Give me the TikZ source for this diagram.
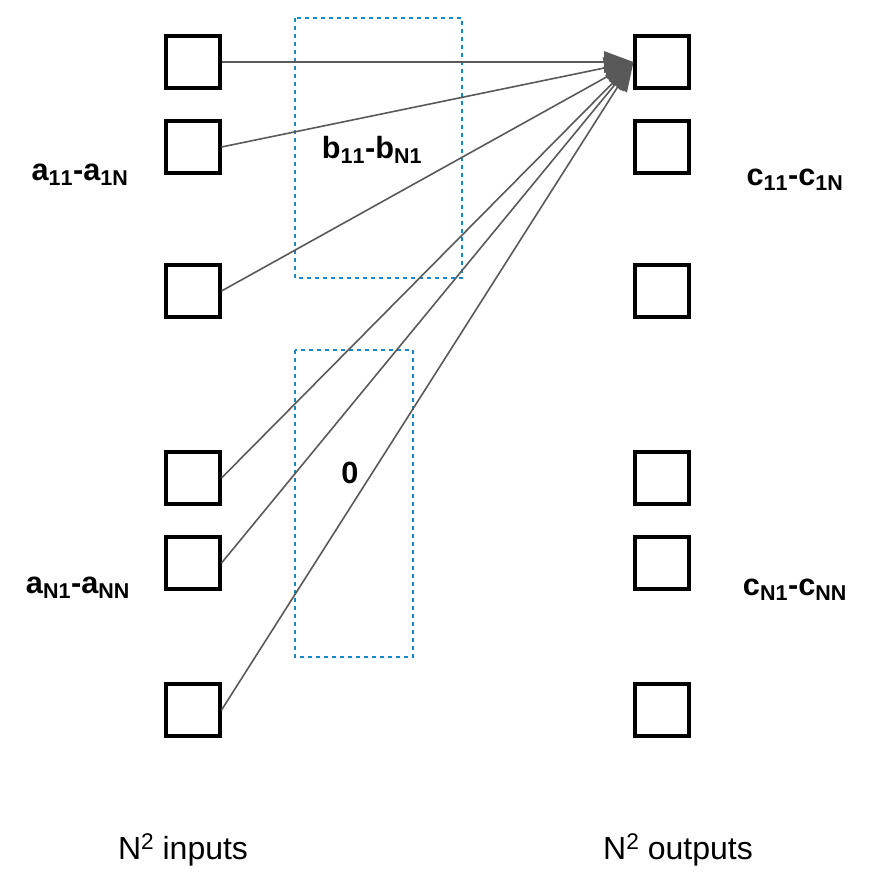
\documentclass[tikz,border=0pt]{standalone}
\usepackage{fontspec}
\setmainfont{Liberation Sans}
\usetikzlibrary{arrows.meta}
\begin{document}
\begin{tikzpicture}[x=0.75pt,y=-0.75pt,
  cell/.style={draw=black,line width=2.8pt,minimum width=40pt,minimum height=39pt,inner sep=0pt},
  conn/.style={draw=black!65,line width=1.2pt},
  grp/.style={draw=cyan!70!blue,dashed,line width=1.3pt},
  lab/.style={font=\fontsize{23}{26}\selectfont\bfseries,inner sep=0pt},
  captxt/.style={font=\fontsize{24}{28}\selectfont,inner sep=0pt}]
\useasboundingbox (0,0) rectangle (870,882);
\draw[grp] (295,18) rectangle (462,278);
\draw[grp] (295,350) rectangle (413,657);
\foreach \n/\y in {1/62,2/147,3/291,4/478,5/563,6/710}{
  \node[cell] (l\n) at (193,\y) {};
  \node[cell] (r\n) at (662,\y) {};
}
\foreach \n in {1,...,6}{
  \draw[conn,-{Triangle[length=22pt,width=16pt]}] (l\n.east) -- (r1.west);
}
\node[lab] (b) at (372,150) {b$_{\mathbf{11}}$-b$_{\mathbf{N1}}$};
\node[lab] (z) at (350,473) {0};
\node[lab] (a1) at (80,175) {a$_{\mathbf{11}}$-a$_{\mathbf{1N}}$};
\node[lab] (a2) at (78,588) {a$_{\mathbf{N1}}$-a$_{\mathbf{NN}}$};
\node[lab] (c1) at (795,180) {c$_{\mathbf{11}}$-c$_{\mathbf{1N}}$};
\node[lab] (c2) at (795,590) {c$_{\mathbf{N1}}$-c$_{\mathbf{NN}}$};
\node[captxt] (ti) at (183,850) {N{\fontsize{17}{20}\selectfont\raisebox{0.45em}{2}} inputs};
\node[captxt] (to) at (678,850) {N{\fontsize{17}{20}\selectfont\raisebox{0.45em}{2}} outputs};
\end{tikzpicture}
\end{document}
